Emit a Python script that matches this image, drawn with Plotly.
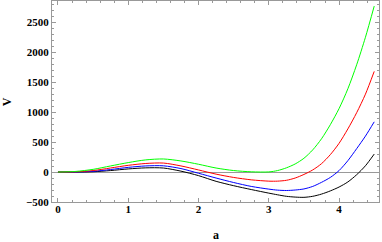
import plotly.graph_objects as go

a_vals = [0, 0.25, 0.5, 0.75, 1.0, 1.25, 1.5, 1.75, 2.0, 2.25, 2.5, 2.75,
          3.0, 3.125, 3.25, 3.375, 3.5, 3.625, 3.75, 3.875, 4.0, 4.125,
          4.25, 4.375, 4.5]

v_black = [0, 0, 5, 25, 52, 70, 67, 15, -60, -155, -228, -292,
           -352, -380, -405, -418, -422, -405, -368, -315, -250, -165,
           -45, 105, 300]
v_blue = [0, 1, 12, 42, 78, 102, 104, 58, -20, -100, -175, -240,
          -285, -302, -308, -300, -282, -240, -172, -90, 25, 190,
          390, 600, 838]
v_red = [0, 4, 25, 68, 112, 143, 150, 102, 35, -35, -90, -130,
         -152, -152, -138, -100, -40, 35, 140, 290, 480, 720,
         990, 1300, 1680]
v_green = [0, 10, 45, 102, 158, 203, 218, 185, 130, 67, 25, 4,
           2, 25, 70, 135, 230, 370, 555, 790, 1060, 1390,
           1790, 2250, 2770]

series = [("black", v_black, "#000000"),
          ("blue", v_blue, "#0000ff"),
          ("red", v_red, "#ff0000"),
          ("green", v_green, "#00ff00")]

x_ticks = [0, 1, 2, 3, 4]
y_ticks = [-500, 0, 500, 1000, 1500, 2000, 2500]

fig = go.Figure()
for name, vals, col in series:
    fig.add_trace(go.Scatter(x=a_vals, y=vals, mode="lines", name=name,
                             line=dict(color=col, width=1, shape="spline", smoothing=0.8),
                             showlegend=False, hoverinfo="skip"))

tickfont = dict(family="Liberation Serif", size=11, color="black", weight="bold")
axis_common = dict(
    showline=True, linecolor="#999999", linewidth=1, mirror="ticks",
    ticks="inside", ticklen=4, tickcolor="#999999", tickwidth=1,
    showgrid=False, tickfont=tickfont, automargin=False,
)

fig.update_xaxes(range=[-0.085, 4.568], tickvals=x_ticks, zeroline=False,
                 ticklabelstandoff=-3,
                 minor=dict(ticks="inside", dtick=0.2, ticklen=2, tickcolor="#999999", showgrid=False),
                 **axis_common)
fig.update_yaxes(range=[-500, 2855], tickvals=y_ticks,
                 zeroline=True, zerolinecolor="#999999", zerolinewidth=1,
                 minor=dict(ticks="inside", dtick=100, ticklen=2, tickcolor="#999999", showgrid=False),
                 **axis_common)

titlefont = dict(family="Liberation Serif", size=12, color="black", weight="bold")
fig.add_annotation(text="a", xref="paper", yref="paper", x=0.5, y=-0.165,
                   xanchor="center", yanchor="middle", showarrow=False, font=titlefont)
fig.add_annotation(text="V", xref="paper", yref="paper", x=-0.138, y=0.5,
                   xanchor="center", yanchor="middle", showarrow=False, font=titlefont,
                   textangle=-90)

fig.update_layout(
    width=382, height=242,
    margin=dict(l=52, r=3, t=1, b=40),
    paper_bgcolor="white", plot_bgcolor="white",
    font=dict(family="Liberation Serif", size=11, color="black", weight="bold"),
    hovermode=False,
)

fig.write_html("out.html", config={"displayModeBar": False},
               post_script="document.body.style.margin='0';document.body.style.overflow='hidden';")
